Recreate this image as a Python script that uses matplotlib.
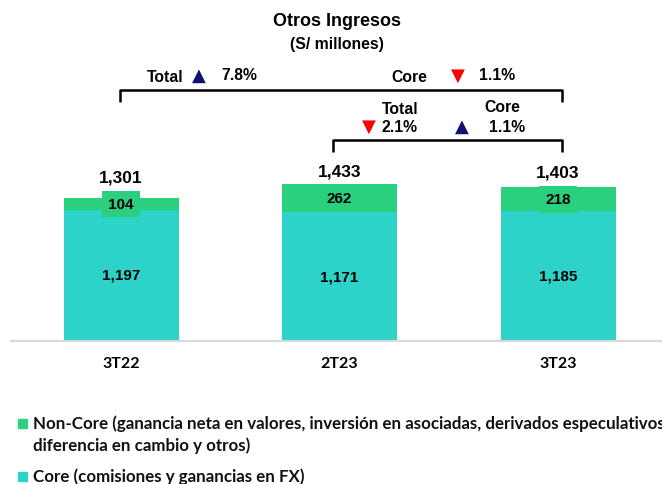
import matplotlib
matplotlib.use("Agg")
import matplotlib.pyplot as plt
from matplotlib.patches import Rectangle
from matplotlib.lines import Line2D

categories = ["3T22", "2T23", "3T23"]
core = [1197, 1171, 1185]
noncore = [104, 262, 218]
totals = [1301, 1433, 1403]

CORE_C = "#2dd3c9"
NONCORE_C = "#2ad07e"
NAVY = "#10106e"
RED = "#ff0000"

W, H = 662, 485
fig = plt.figure(figsize=(W / 100, H / 100), dpi=100)

ax = fig.add_axes([0, 0, 1, 1])
px_per_cat = 218.5
x0_px = 121
ax.set_xlim(-x0_px / px_per_cat, (W - x0_px) / px_per_cat)
base_px = 341
px_per_unit = 0.1089
ax.set_ylim(-(H - base_px) / px_per_unit, base_px / px_per_unit)
ax.axis("off")

xs = list(range(len(categories)))
bw = 115 / px_per_cat
ax.bar(xs, core, width=bw, color=CORE_C, zorder=2)
ax.bar(xs, noncore, width=bw, bottom=core, color=NONCORE_C, zorder=2)

num_font = dict(family="Liberation Sans", weight="bold", color="black")
cat_y = -(364 - base_px) / px_per_unit
box_half = 14 / px_per_unit
for i in xs:
    ax.text(i, core[i] / 2, f"{core[i]:,}", ha="center", va="center", fontsize=11, zorder=4, **num_font)
    mid = core[i] + noncore[i] / 2
    ax.text(i, mid, f"{noncore[i]:,}", ha="center", va="center", fontsize=11, zorder=4,
            bbox=dict(boxstyle="square,pad=0.42", fc=NONCORE_C, ec="none"), **num_font)
    top = max(totals[i], mid + box_half)
    ax.annotate(f"{totals[i]:,}", (i, top), xytext=(0, 4), textcoords="offset points",
                ha="center", va="bottom", fontsize=12.5, **num_font)
    ax.text(i, cat_y, categories[i], ha="center", va="center", fontsize=11.5, family="Lato", weight="bold")

def fx(px):
    return px / W

def fy(py):
    return 1 - py / H

fig.add_artist(Line2D([fx(11), fx(662)], [fy(341.5), fy(341.5)], color="#d9d9d9", lw=1.5))

fig.text(fx(337), fy(21), "Otros Ingresos", ha="center", va="center", fontsize=13, family="Liberation Sans", weight="bold")
fig.text(fx(337), fy(45), "(S/ millones)", ha="center", va="center", fontsize=11.3, family="Liberation Sans", weight="bold")

lab = dict(family="Liberation Sans", weight="bold", fontsize=11.3, va="center")
tri = dict(family="DejaVu Sans", fontsize=13, va="center", ha="center")

fig.text(fx(147), fy(78), "Total", ha="left", **lab)
fig.text(fx(199), fy(76), "▲", color=NAVY, **tri)
fig.text(fx(221), fy(76), "7.8%", ha="left", **lab)
fig.text(fx(391), fy(78), "Core", ha="left", **lab)
fig.text(fx(458), fy(76), "▼", color=RED, **tri)
fig.text(fx(479), fy(76), "1.1%", ha="left", **lab)

def bracket(x1, x2, ytop, ybot):
    fig.add_artist(Line2D([fx(x1), fx(x1), fx(x2), fx(x2)], [fy(ybot), fy(ytop), fy(ytop), fy(ybot)],
                          color="black", lw=1.8, solid_joinstyle="round", solid_capstyle="butt"))

bracket(120, 562, 91, 103)
bracket(333, 562, 141, 153)

fig.text(fx(400), fy(109), "Total", ha="center", **lab)
fig.text(fx(369), fy(127), "▼", color=RED, **tri)
fig.text(fx(400), fy(128), "2.1%", ha="center", **lab)
fig.text(fx(502), fy(108), "Core", ha="center", **lab)
fig.text(fx(462), fy(127), "▲", color=NAVY, **tri)
fig.text(fx(507), fy(128), "1.1%", ha="center", **lab)

leg = dict(family="Lato", weight="bold", fontsize=12.2, va="center", ha="left", color="#111111")
def sq(x, y, c):
    fig.add_artist(Rectangle((fx(x), fy(y + 4.5)), 9 / W, 9 / H, color=c, transform=fig.transFigure))
sq(18, 424, NONCORE_C)
fig.text(fx(33), fy(424), "Non-Core (ganancia neta en valores, inversión en asociadas, derivados especulativos,", **leg)
fig.text(fx(33), fy(446), "diferencia en cambio y otros)", **leg)
sq(18, 477, CORE_C)
fig.text(fx(33), fy(477), "Core (comisiones y ganancias en FX)", **leg)

fig.savefig("out.png", dpi=100)
